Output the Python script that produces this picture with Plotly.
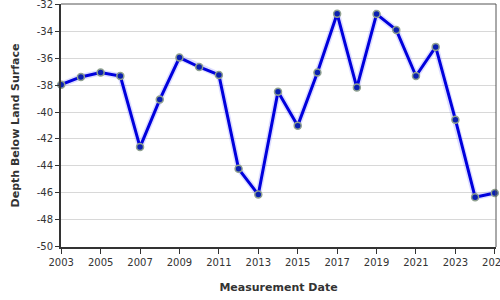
import plotly.graph_objects as go

years = [2003, 2004, 2005, 2006, 2007, 2008, 2009, 2010, 2011, 2012, 2013, 2014,
         2015, 2016, 2017, 2018, 2019, 2020, 2021, 2022, 2023, 2024, 2025]
depth = [-37.97, -37.40, -37.07, -37.33, -42.60, -39.08, -35.96, -36.66, -37.25,
         -44.21, -46.12, -38.49, -41.01, -37.07, -32.72, -38.19, -32.74, -33.91,
         -37.33, -35.17, -40.57, -46.32, -46.00]
x_ticks = [2003, 2005, 2007, 2009, 2011, 2013, 2015, 2017, 2019, 2021, 2023, 2025]
y_ticks = [-32, -34, -36, -38, -40, -42, -44, -46, -48, -50]

fig = go.Figure()
fig.add_trace(go.Scatter(x=years, y=depth, mode="lines",
                         line=dict(color="rgba(120,120,255,0.25)", width=6),
                         hoverinfo="skip", showlegend=False))
fig.add_trace(go.Scatter(x=years, y=depth, mode="lines+markers",
                         line=dict(color="#0000dd", width=3),
                         marker=dict(color="#0a1fb0", size=7,
                                     line=dict(color="#8fa08f", width=1.5)),
                         showlegend=False, cliponaxis=False))

fig.update_layout(
    width=500, height=300,
    margin=dict(l=61, r=4, t=4, b=53),
    paper_bgcolor="white", plot_bgcolor="white",
    font=dict(family="DejaVu Sans", size=10, color="#333333"),
    xaxis=dict(range=[2002.99, 2025.06], tickvals=x_ticks,
               ticktext=[str(t) for t in x_ticks], automargin=False,
               showgrid=False, zeroline=False, ticklabeloverflow="allow",
               ticks="outside", ticklen=5, tickcolor="#333333", tickwidth=1,
               showline=True, linecolor="#333333", linewidth=2, mirror=False,
               title=dict(text="<b>Measurement Date</b>",
                          font=dict(size=11, color="#333333", family="DejaVu Sans"),
                          standoff=16)),
    yaxis=dict(range=[-50.01, -31.99], tickvals=y_ticks, automargin=False,
               ticktext=[str(t) for t in y_ticks], ticklabeloverflow="allow",
               showgrid=True, gridcolor="#d8d8d8", gridwidth=1, zeroline=False,
               ticks="outside", ticklen=4, tickcolor="#333333", tickwidth=1,
               showline=True, linecolor="#333333", linewidth=2,
               title=dict(text="<b>Depth Below Land Surface</b>",
                          font=dict(size=11, color="#333333", family="DejaVu Sans"),
                          standoff=15)),
    shapes=[
        dict(type="line", xref="paper", yref="paper", x0=0, x1=1, y0=1, y1=1,
             line=dict(color="#555555", width=1)),
        dict(type="line", xref="paper", yref="paper", x0=1, x1=1, y0=0, y1=1,
             line=dict(color="#555555", width=1)),
    ],
)

fig.write_html("out.html")
